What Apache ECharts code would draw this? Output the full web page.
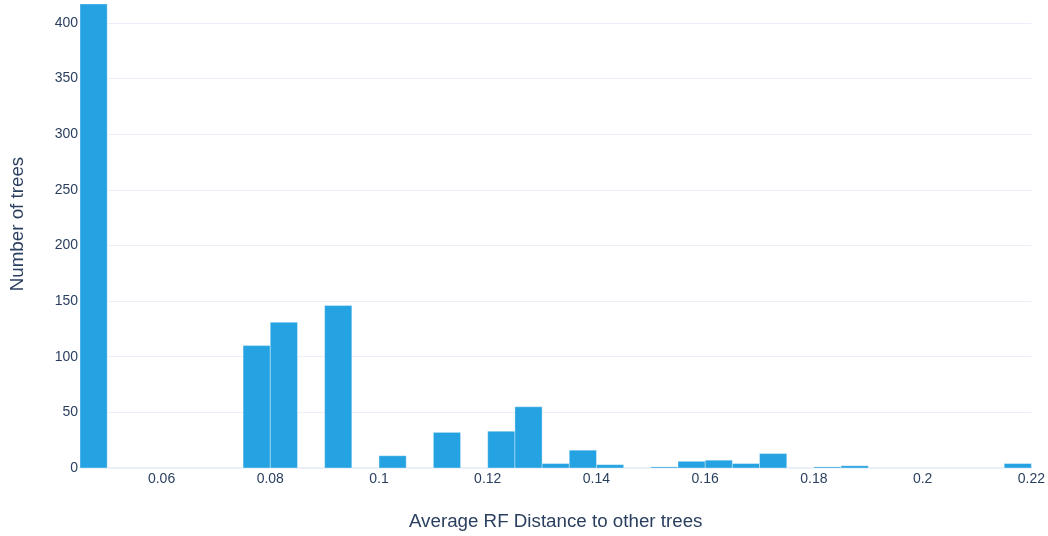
<!DOCTYPE html>
<html>
<head>
<meta charset="utf-8">
<script src="https://cdn.jsdelivr.net/npm/echarts@6/dist/echarts.min.js"></script>
<style>html,body{margin:0;padding:0;background:#fff}#c{width:1048px;height:536px}</style>
</head>
<body>
<div id="c"></div>
<script>
// Histogram bins (width 0.005) — bin start values
const binStarts = [0.045,0.050,0.055,0.060,0.065,0.070,0.075,0.080,0.085,0.090,0.095,0.100,0.105,0.110,0.115,0.120,0.125,0.130,0.135,0.140,0.145,0.150,0.155,0.160,0.165,0.170,0.175,0.180,0.185,0.190,0.195,0.200,0.205,0.210,0.215];
const counts    = [417,  0,    0,    0,    0,    0,    110,  131,  0,    146,  0,    11,   0,    32,   0,    33,   55,   4,    16,   3,    0,    1,    6,    7,    4,    13,   0,    1,    2,    0,    0,    0,    0,    0,    4];
const binWidth = 0.005;
const xTicks = [0.06,0.08,0.10,0.12,0.14,0.16,0.18,0.20,0.22];
const xTitle = 'Average RF Distance to other trees';
const yTitle = 'Number of trees';

const data = binStarts.map((s,i)=>[s, s+binWidth, counts[i]]).filter(d=>d[2]>0);
const textColor = '#2a3f5f';
const gridColor = '#ebf0f8';
const font = 'Liberation Sans, Arial, sans-serif';

const chart = echarts.init(document.getElementById('c'), null, {renderer:'canvas'});
chart.setOption({
  backgroundColor:'#fff',
  animation:false,
  grid:{left:80,right:16,top:4,bottom:66,containLabel:false},
  xAxis:{
    type:'value', min:0.045, max:0.22,
    name:xTitle, nameLocation:'middle', nameGap:44,
    nameTextStyle:{color:textColor,fontSize:18.75,fontFamily:font},
    axisLine:{show:true,onZero:false,lineStyle:{color:gridColor,width:2}},
    axisTick:{show:false},
    splitLine:{show:false},
    axisLabel:{customValues:xTicks,color:textColor,fontSize:14,fontFamily:font,margin:4,
      formatter:v=>String(parseFloat(v.toFixed(4)))}
  },
  yAxis:{
    type:'value', min:0, max:417, interval:50,
    name:yTitle, nameLocation:'middle', nameGap:53,
    nameTextStyle:{color:textColor,fontSize:18.75,fontFamily:font,padding:[0,0,0,24]},
    axisLine:{show:false},
    axisTick:{show:false},
    splitLine:{show:true,showMaxLine:false,lineStyle:{color:gridColor,width:1}},
    axisLabel:{color:textColor,fontSize:14,fontFamily:font,margin:2,showMaxLabel:false}
  },
  series:[{
    type:'custom',
    data:data,
    encode:{x:[0,1],y:2},
    renderItem:function(params, api){
      const p0 = api.coord([api.value(0), api.value(2)]);
      const p1 = api.coord([api.value(1), 0]);
      return {type:'rect', shape:{x:p0[0], y:p0[1], width:p1[0]-p0[0], height:p1[1]-p0[1]},
        style:{fill:'#25a2e1', stroke:'rgba(255,255,255,0.35)', lineWidth:1}};
    }
  }]
});
</script>
</body>
</html>
